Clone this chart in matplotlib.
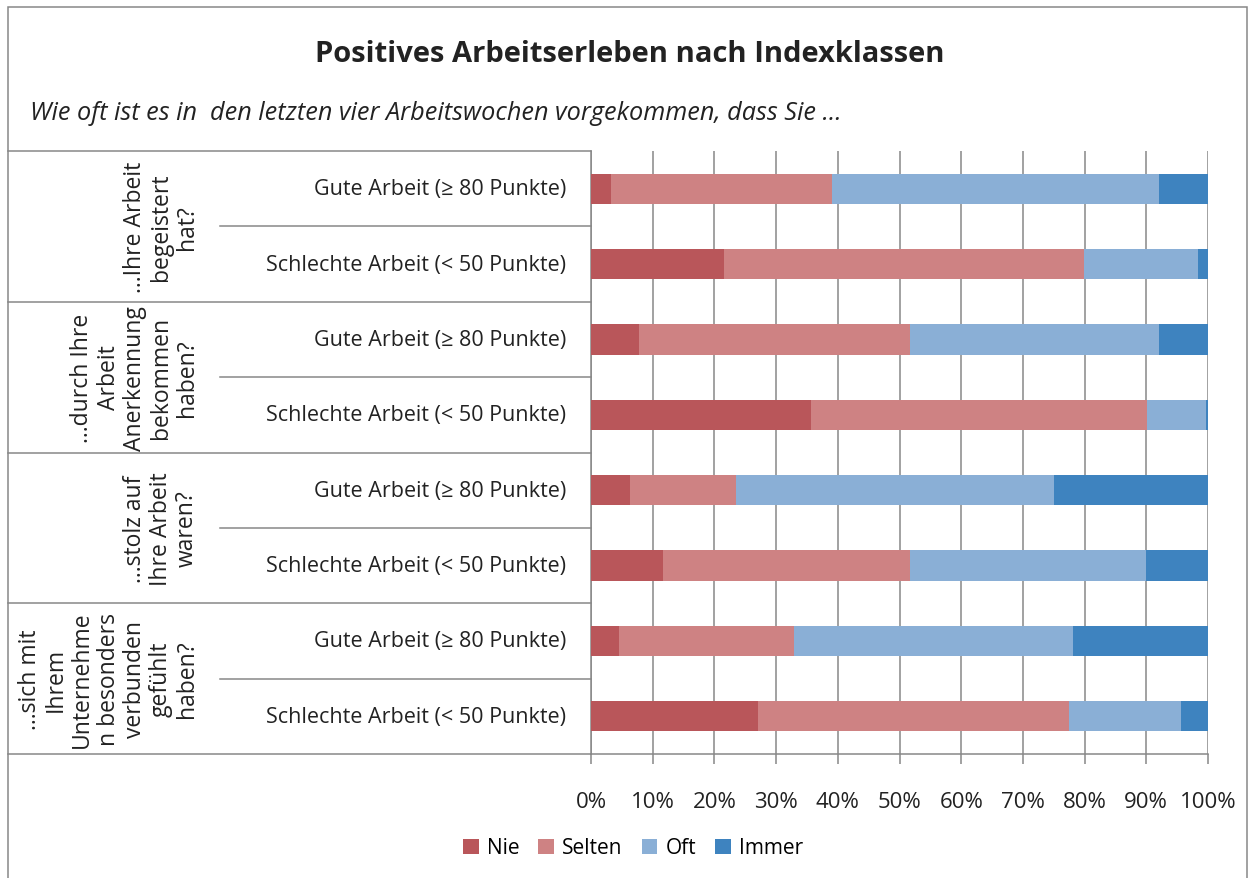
import matplotlib
matplotlib.use("Agg")
import matplotlib.pyplot as plt
import matplotlib.transforms as mtransforms
from matplotlib.lines import Line2D
from matplotlib.patches import Rectangle, Patch

plt.rcParams['font.family'] = ['Open Sans', 'DejaVu Sans']

# data (percent), one entry per row from top to bottom
row_labels = ["Gute Arbeit (≥ 80 Punkte)", "Schlechte Arbeit (< 50 Punkte)"] * 4
group_labels = [
    "...Ihre Arbeit\nbegeistert\nhat?",
    "...durch Ihre\nArbeit\nAnerkennung\nbekommen\nhaben?",
    "...stolz auf\nIhre Arbeit\nwaren?",
    "...sich mit\nIhrem\nUnternehme\nn besonders\nverbunden\ngefühlt\nhaben?",
]
nie    = [3.2, 21.6, 7.7, 35.7, 6.3, 11.7, 4.6, 27.1]
selten = [35.8, 58.3, 44.0, 54.4, 17.2, 40.0, 28.3, 50.3]
oft    = [53.0, 18.4, 40.3, 9.5, 51.6, 38.2, 45.2, 18.3]
immer  = [8.0, 1.7, 8.0, 0.4, 24.9, 10.1, 21.9, 4.3]

series = [("Nie", nie, "#B9565A"), ("Selten", selten, "#CE8283"),
          ("Oft", oft, "#8AAFD6"), ("Immer", immer, "#3E83BF")]

W, H = 1252, 879
fig = plt.figure(figsize=(W / 100, H / 100), dpi=100)
ax = fig.add_axes([591 / W, 1 - 755 / H, (1208 - 591) / W, (755 - 152) / H])

ypos = list(range(len(row_labels)))
left = [0.0] * len(ypos)
for name, vals, col in series:
    ax.barh(ypos, vals, left=left, height=0.4, color=col, edgecolor='none', zorder=3)
    left = [a + b for a, b in zip(left, vals)]

txt_col = "#222222"
grid_col = "#878787"
fs = 15.5
ax.set_xlim(0, 100)
ax.set_ylim(len(ypos) - 0.5, -0.5)
ax.set_xticks(range(0, 101, 10))
ax.set_xticklabels([f"{t}%" for t in range(0, 101, 10)], fontsize=16, color=txt_col)
ax.tick_params(axis='x', length=7, width=1.1, color=grid_col, pad=20)
ax.set_yticks([])
ax.grid(axis='x', color=grid_col, linewidth=1.1, zorder=0)
for s in ['top', 'right']:
    ax.spines[s].set_visible(False)
for s in ['left', 'bottom']:
    ax.spines[s].set_color(grid_col)
    ax.spines[s].set_linewidth(1.1)

# category table on the left
tr = mtransforms.blended_transform_factory(fig.transFigure, ax.transData)
x_axis = 591 / W
for y in [-0.5, 1.5, 3.5, 5.5, 7.5]:
    fig.add_artist(Line2D([8 / W, x_axis], [y, y], transform=tr, color=grid_col, lw=1.1))
for y in [0.5, 2.5, 4.5, 6.5]:
    fig.add_artist(Line2D([220 / W, x_axis], [y, y], transform=tr, color=grid_col, lw=1.1))

for y, lab in zip(ypos, row_labels):
    fig.text(566 / W, y, lab, transform=tr, ha='right', va='center', fontsize=fs, color=txt_col)
for i, lab in enumerate(group_labels):
    fig.text(199 / W, 2 * i + 0.5, lab, transform=tr, rotation=90, ha='right', va='center',
             multialignment='center', fontsize=16.5, color=txt_col, linespacing=1.12)

fig.text(630 / W, 1 - 55 / H, "Positives Arbeitserleben nach Indexklassen",
         ha='center', va='center', fontsize=21, fontweight='bold', color=txt_col)
fig.text(30 / W, 1 - 113 / H,
         "Wie oft ist es in  den letzten vier Arbeitswochen vorgekommen, dass Sie ...",
         ha='left', va='center', fontsize=18.2, style='italic', color=txt_col)

handles = [Patch(facecolor=c, edgecolor='none', label=n) for n, _, c in series]
fig.legend(handles=handles, loc='center', bbox_to_anchor=(633 / W, 1 - 849 / H), ncol=4,
           frameon=False, fontsize=15, handlelength=0.75, handleheight=0.75,
           handletextpad=0.4, columnspacing=0.9)

fig.add_artist(Rectangle((8 / W, -0.01), (1247 - 8) / W, 1 - 8 / H + 0.01, transform=fig.transFigure,
                         fill=False, edgecolor=grid_col, lw=1.1))

fig.savefig("out.png", dpi=100)
